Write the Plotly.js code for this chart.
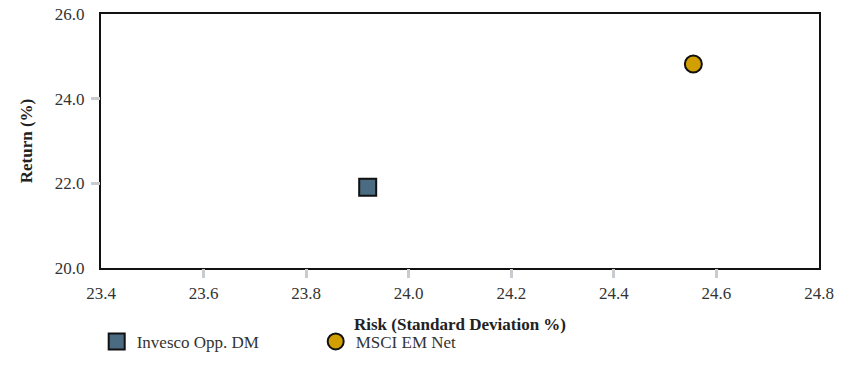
<!DOCTYPE html>
<html><head><meta charset="utf-8">
<script src="https://cdn.plot.ly/plotly-3.0.1.min.js"></script>
<style>html,body{margin:0;padding:0;background:#fff}</style>
</head><body><div id="chart" style="width:853px;height:380px"></div>
<script>
const seriesNames = ["Invesco Opp. DM", "MSCI EM Net"];
const riskValues = [23.92, 24.555];
const returnValues = [21.91, 24.82];
const markerSymbols = ["square", "circle"];
const markerColors = ["#4a6b82", "#d19f00"];
const xTickValues = [23.4, 23.6, 23.8, 24.0, 24.2, 24.4, 24.6, 24.8];
const yTickValues = [20, 22, 24, 26];

const traces = seriesNames.map((n, i) => ({
  type: "scatter", mode: "markers", name: n,
  x: [riskValues[i]], y: [returnValues[i]],
  marker: {symbol: markerSymbols[i], size: 17, color: markerColors[i], line: {color: "#111", width: 2}}
}));
traces.push({type: "scatter", mode: "markers", x: [riskValues[0]], y: [returnValues[0]], xaxis: "x2", yaxis: "y2",
  marker: {opacity: 0}, showlegend: false, hoverinfo: "skip"});

const fontFam = "'Liberation Serif', serif";
const tickStyle = {ticks: "outside", ticklen: 9, tickwidth: 3, tickcolor: "#c8ccd0"};
const layout = {
  width: 853, height: 380,
  margin: {l: 101, r: 34, t: 14, b: 112},
  paper_bgcolor: "#fff", plot_bgcolor: "#fff",
  font: {family: fontFam, size: 17, color: "#333"},
  showlegend: true,
  legend: {orientation: "h", x: -0.006, xanchor: "left", y: -0.22, yanchor: "top", entrywidth: 174,
    font: {family: fontFam, size: 17, color: "#333"}},
  xaxis: {range: [23.4, 24.8], tickvals: xTickValues, ticktext: xTickValues.map(v => v.toFixed(1)), showgrid: false, zeroline: false,
    showline: true, linecolor: "#111", linewidth: 2, mirror: true, automargin: false,
    ticks: "outside", ticklen: 9, tickwidth: 1, tickcolor: "rgba(0,0,0,0)",
    tickfont: {family: fontFam, size: 17, color: "#333"},
    title: {text: "<b>Risk (Standard Deviation %)</b>", font: {family: fontFam, size: 17, color: "#222"}, standoff: 16}},
  yaxis: {range: [20, 26], tickvals: yTickValues, ticktext: yTickValues.map(v => v.toFixed(1)), showgrid: false, zeroline: false,
    showline: true, linecolor: "#111", linewidth: 2, mirror: true, automargin: false,
    ticks: "outside", ticklen: 11, tickwidth: 1, tickcolor: "rgba(0,0,0,0)",
    tickfont: {family: fontFam, size: 17, color: "#333"},
    title: {text: "<b>Return (%)</b>", font: {family: fontFam, size: 17, color: "#222"}, standoff: 18}},
  xaxis2: Object.assign({range: [23.4, 24.8], overlaying: "x", tickvals: xTickValues.slice(1, -1), showticklabels: false,
    showgrid: false, zeroline: false, showline: false, side: "bottom"}, tickStyle),
  yaxis2: Object.assign({range: [20, 26], overlaying: "y", tickvals: yTickValues.slice(1, -1), showticklabels: false,
    showgrid: false, zeroline: false, showline: false, side: "left"}, tickStyle)
};
Plotly.newPlot("chart", traces, layout, {displayModeBar: false});
</script></body></html>
